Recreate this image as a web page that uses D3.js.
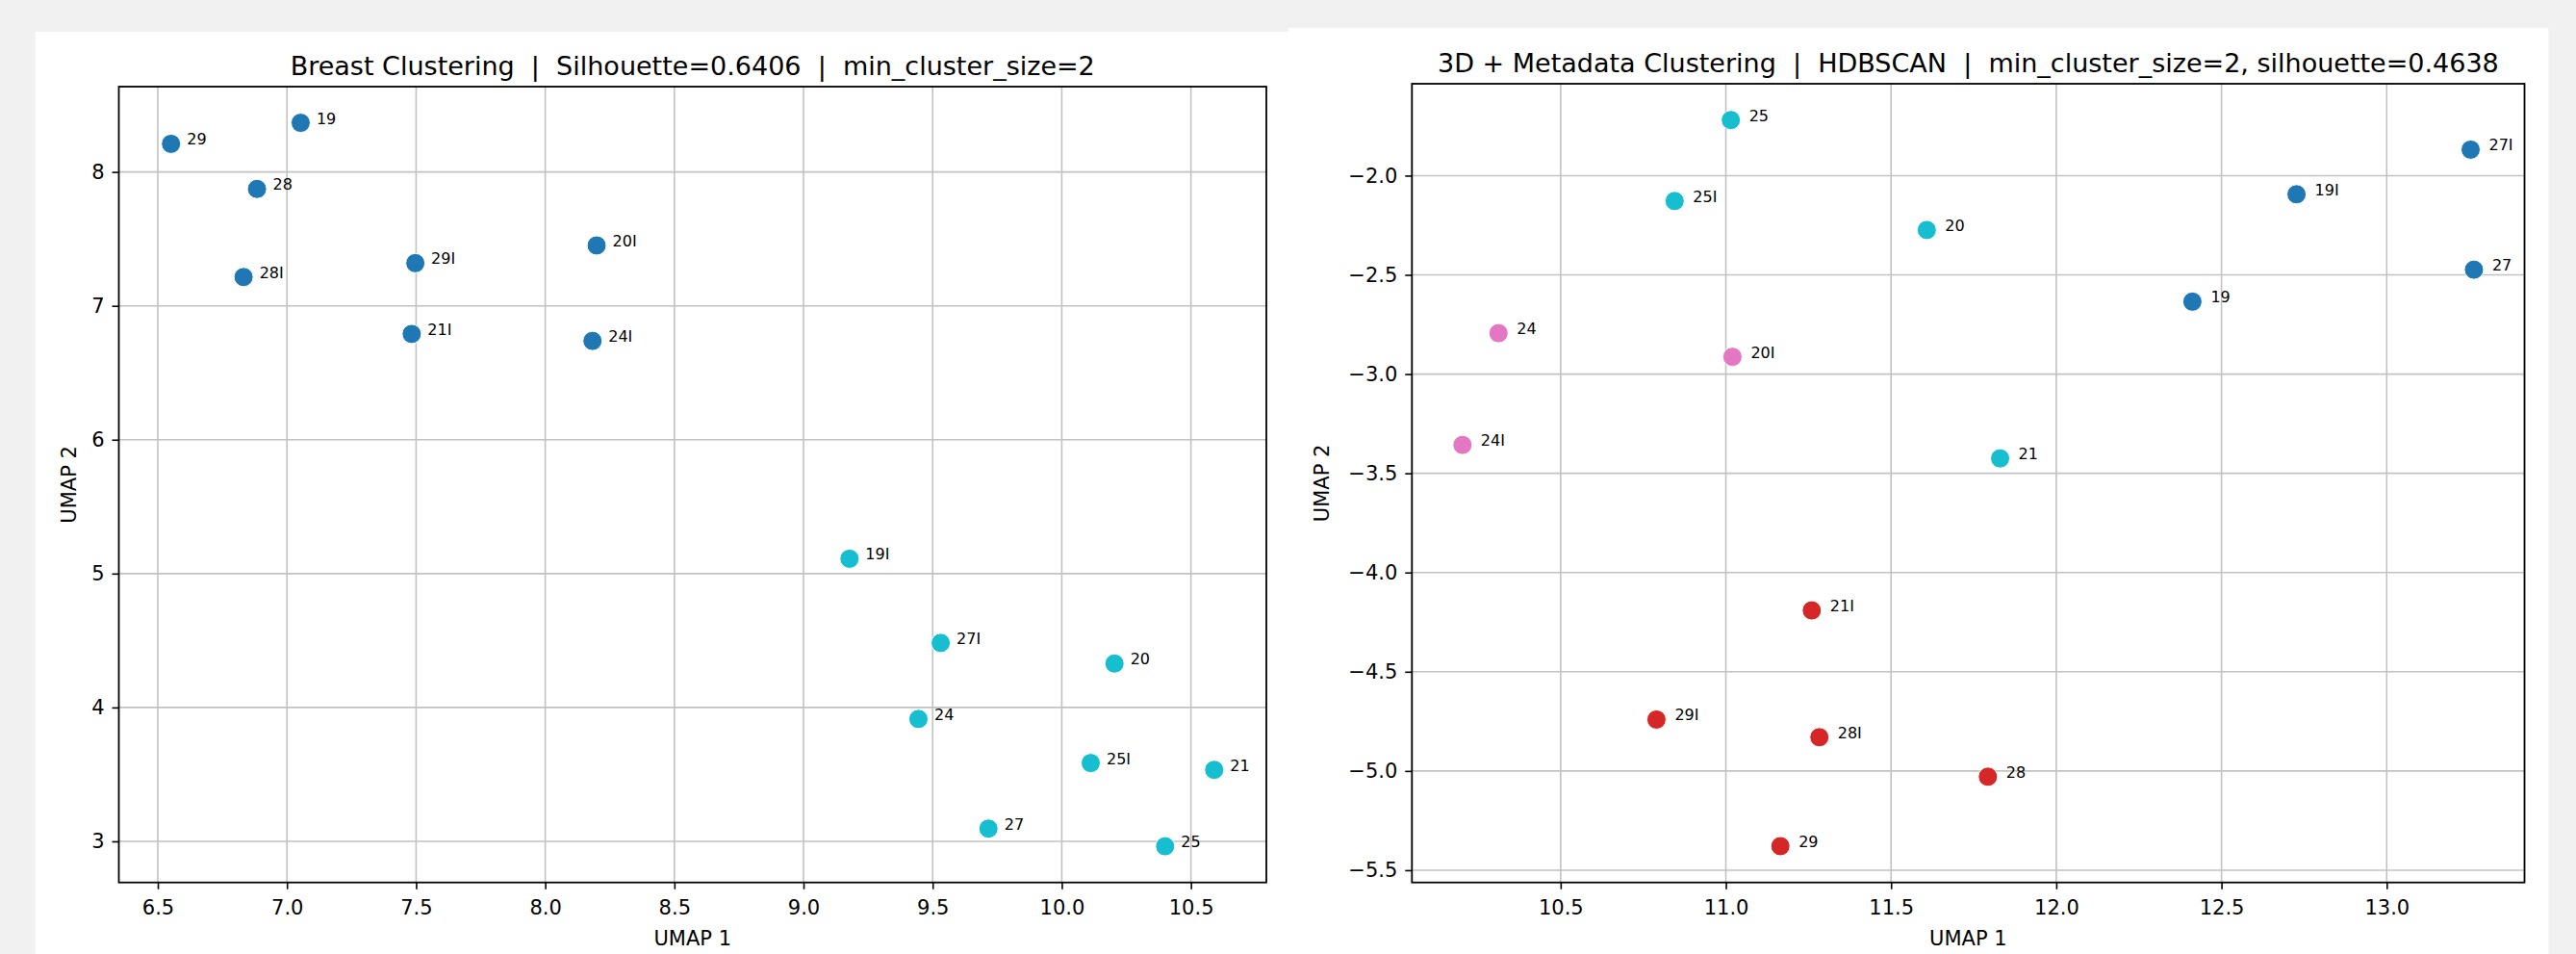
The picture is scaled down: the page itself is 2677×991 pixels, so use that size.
<!DOCTYPE html>
<html>
<head>
<meta charset="utf-8">
<script src="https://cdn.jsdelivr.net/npm/d3@7"></script>
<style>
  body { margin: 0; background: #f1f1f1; }
  svg { display: block; font-family: "DejaVu Sans", sans-serif; }
</style>
</head>
<body>
<div id="chart"></div>
<script>
//////////
// DATA //
//////////

// sample names, shared by both panels
var sampleLabels = ["19", "19I", "20", "20I", "21", "21I", "24", "24I",
                    "25", "25I", "27", "27I", "28", "28I", "29", "29I"];

// left panel: breast clustering
var breastX = [7.053, 9.178, 10.204, 8.199, 10.59, 7.483, 9.445, 8.183,
               10.40, 10.112, 9.716, 9.531, 6.884, 6.832, 6.551, 7.497];
var breastY = [8.367, 5.111, 4.328, 7.451, 3.534, 6.790, 3.914, 6.738,
               2.963, 3.585, 3.095, 4.482, 7.873, 7.215, 8.21, 7.319];
var breastCluster = [0, 1, 1, 0, 1, 0, 1, 0, 1, 1, 1, 1, 0, 0, 0, 0];
var breastXTicks = [6.5, 7.0, 7.5, 8.0, 8.5, 9.0, 9.5, 10.0, 10.5];
var breastYTicks = [3, 4, 5, 6, 7, 8];

// right panel: 3D + metadata clustering
var metaX = [12.412, 12.727, 11.608, 11.02, 11.83, 11.26, 10.312, 10.203,
             11.015, 10.845, 13.264, 13.254, 11.793, 11.283, 11.165, 10.79];
var metaY = [-2.635, -2.094, -2.274, -2.913, -3.425, -4.191, -2.794, -3.357,
             -1.720, -2.128, -2.474, -1.869, -5.029, -4.83, -5.379, -4.741];
var metaCluster = [0, 0, 3, 2, 3, 1, 2, 2, 3, 3, 0, 0, 1, 1, 1, 1];
var metaXTicks = [10.5, 11.0, 11.5, 12.0, 12.5, 13.0];
var metaYTicks = [-5.5, -5.0, -4.5, -4.0, -3.5, -3.0, -2.5, -2.0];

var breastTitle = "Breast Clustering  |  Silhouette=0.6406  |  min_cluster_size=2";
var metaTitle = "3D + Metadata Clustering  |  HDBSCAN  |  min_cluster_size=2, silhouette=0.4638";

/////////
// SVG //
/////////

var svgWidth = 2677, svgHeight = 991;

var svg = d3.select("#chart").append("svg")
  .attr("width", svgWidth)
  .attr("height", svgHeight);

svg.append("rect")
  .attr("width", svgWidth).attr("height", svgHeight)
  .attr("fill", "#f1f1f1");

// tab10 like matplotlib, cluster ids spread over the colormap
var tab10 = d3.schemeCategory10;

function padded(vals) {
  var lo = d3.min(vals), hi = d3.max(vals), m = (hi - lo) * 0.05;
  return [lo - m, hi + m];
}

var drawPanel = function(cfg) {
  var g = svg.append("g");

  g.append("rect")
    .attr("x", cfg.panel.x).attr("y", cfg.panel.y)
    .attr("width", cfg.panel.w).attr("height", svgHeight - cfg.panel.y + 5)
    .attr("fill", "#ffffff");

  var p = cfg.plot;
  var x = d3.scaleLinear().domain(padded(cfg.xs)).range([p.left, p.right]);
  var y = d3.scaleLinear().domain(padded(cfg.ys)).range([p.bottom, p.top]);

  // grid
  g.selectAll(".vgrid").data(cfg.xTicks).enter().append("line")
    .attr("x1", function (d) { return x(d); }).attr("x2", function (d) { return x(d); })
    .attr("y1", p.top).attr("y2", p.bottom)
    .attr("stroke", "#c2c2c2").attr("stroke-width", 1.6);
  g.selectAll(".hgrid").data(cfg.yTicks).enter().append("line")
    .attr("y1", function (d) { return y(d); }).attr("y2", function (d) { return y(d); })
    .attr("x1", p.left).attr("x2", p.right)
    .attr("stroke", "#c2c2c2").attr("stroke-width", 1.6);

  // axes
  var xAxis = d3.axisBottom(x).tickValues(cfg.xTicks).tickSize(7).tickPadding(11)
    .tickFormat(d3.format(".1f"));
  var yAxis = d3.axisLeft(y).tickValues(cfg.yTicks).tickSize(7).tickPadding(8)
    .tickFormat(d3.format(cfg.yFormat));

  var gx = g.append("g").attr("transform", "translate(0," + p.bottom + ")").call(xAxis);
  var gy = g.append("g").attr("transform", "translate(" + p.left + ",0)").call(yAxis);
  [gx, gy].forEach(function (a) {
    a.select(".domain").remove();
    a.selectAll("line").attr("stroke", "#000").attr("stroke-width", 1.6);
    a.selectAll("text").attr("fill", "#000").style("font-size", "21px")
      .style("font-family", "DejaVu Sans");
  });

  // points
  var maxC = d3.max(cfg.cluster);
  g.selectAll(".pt").data(cfg.xs).enter().append("circle")
    .attr("cx", function (d) { return x(d); })
    .attr("cy", function (d, i) { return y(cfg.ys[i]); })
    .attr("r", 10)
    .attr("fill", function (d, i) { return tab10[Math.round(cfg.cluster[i] / maxC * 9)]; })
    .attr("stroke", "#ffffff").attr("stroke-width", 1);

  g.selectAll(".lbl").data(sampleLabels).enter().append("text")
    .attr("x", function (d, i) { return x(cfg.xs[i]) + cfg.labelDx; })
    .attr("y", function (d, i) { return y(cfg.ys[i]) + 1; })
    .style("font-size", "16px")
    .attr("fill", "#000")
    .text(function (d) { return d; });

  // frame
  g.append("rect")
    .attr("x", p.left).attr("y", p.top)
    .attr("width", p.right - p.left).attr("height", p.bottom - p.top)
    .attr("fill", "none").attr("stroke", "#000").attr("stroke-width", 1.8);

  // title and axis labels
  g.append("text")
    .attr("x", (p.left + p.right) / 2).attr("y", p.top - 12)
    .attr("text-anchor", "middle")
    .style("font-size", "27px")
    .style("white-space", "pre")
    .attr("xml:space", "preserve")
    .text(cfg.title);

  g.append("text")
    .attr("x", (p.left + p.right) / 2).attr("y", 981.5)
    .attr("text-anchor", "middle")
    .style("font-size", "21px")
    .text("UMAP 1");

  g.append("text")
    .attr("transform", "translate(" + cfg.yLabelX + "," + (p.top + p.bottom) / 2 + ") rotate(-90)")
    .attr("dy", "0.35em")
    .attr("text-anchor", "middle")
    .style("font-size", "21px")
    .text("UMAP 2");
};

drawPanel({
  panel: { x: 36.7, y: 33, w: 1302.3 },
  plot: { left: 123.5, right: 1316, top: 90, bottom: 916.7 },
  xs: breastX, ys: breastY, cluster: breastCluster,
  xTicks: breastXTicks, yTicks: breastYTicks, yFormat: "d",
  title: breastTitle, labelDx: 16.5, yLabelX: 71.4
});

drawPanel({
  panel: { x: 1339, y: 29, w: 1309.3 },
  plot: { left: 1467.3, right: 2623.5, top: 87, bottom: 916.7 },
  xs: metaX, ys: metaY, cluster: metaCluster,
  xTicks: metaXTicks, yTicks: metaYTicks, yFormat: ".1f",
  title: metaTitle, labelDx: 19, yLabelX: 1373.3
});
</script>
</body>
</html>
